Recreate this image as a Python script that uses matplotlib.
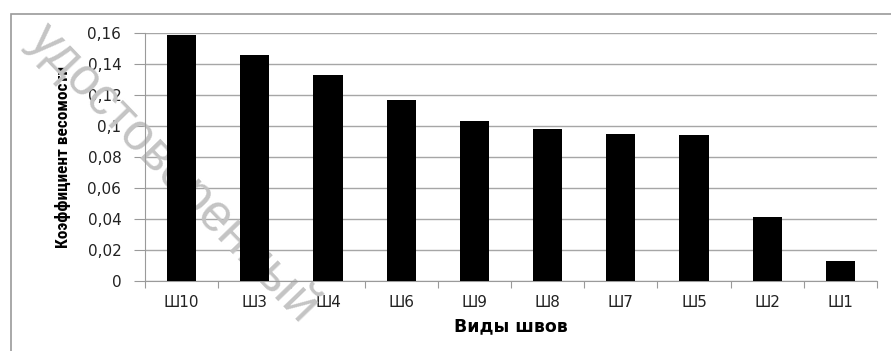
import matplotlib
matplotlib.use('Agg')
import matplotlib.pyplot as plt
from matplotlib.patches import Rectangle
from matplotlib.ticker import FuncFormatter, MultipleLocator

# виды швов и коэффициенты весомости
categories = ['Ш10', 'Ш3', 'Ш4', 'Ш6', 'Ш9', 'Ш8', 'Ш7', 'Ш5', 'Ш2', 'Ш1']
values = [0.159, 0.146, 0.133, 0.117, 0.103, 0.098, 0.095, 0.094, 0.041, 0.013]

fig = plt.figure(figsize=(8.91, 3.51), dpi=100)
ax = fig.add_axes([0.1627, 0.1994, 0.8216, 0.7066])

# рамка области диаграммы
fig.patches.append(Rectangle((11/891, -0.1), 1.1, 1 - 14/351 + 0.1,
                             transform=fig.transFigure, fill=False,
                             edgecolor='#9a9a9a', linewidth=1.2))

x = range(len(categories))
ax.bar(x, values, width=0.4, color='black', zorder=3)

ax.set_xlim(-0.5, len(categories) - 0.5)
ax.set_ylim(0, 0.16)
ax.yaxis.set_major_locator(MultipleLocator(0.02))
ax.yaxis.set_major_formatter(FuncFormatter(
    lambda v, p: '0' if abs(v) < 1e-9 else ('%.2f' % v).rstrip('0').replace('.', ',')))
ax.grid(axis='y', color='#a6a6a6', linewidth=1.0, zorder=0)

ax.set_xticks([i - 0.5 for i in range(len(categories) + 1)], minor=False)
ax.set_xticklabels([])
ax.set_xticks(list(x), minor=True)
ax.set_xticklabels(categories, minor=True)
ax.tick_params(axis='x', which='major', length=5, color='#9a9a9a', direction='out')
ax.tick_params(axis='x', which='minor', length=0, pad=10, labelsize=11, labelcolor='#222222')
ax.tick_params(axis='y', length=8, color='#9a9a9a', labelsize=11, labelcolor='#222222', pad=9)

for s in ['top', 'right']:
    ax.spines[s].set_visible(False)
for s in ['left', 'bottom']:
    ax.spines[s].set_color('#9a9a9a')

ax.set_xlabel('Виды швов', fontsize=12.5, fontweight='bold', labelpad=5)
ax.set_ylabel('Коэффициент весомости', fontsize=12.5, fontweight='bold',
              family=['Roboto Condensed', 'DejaVu Sans Condensed', 'Liberation Sans'],
              labelpad=12)

# водяной знак (под столбцами)
ax.text(0.195, 0.505, 'удостоверенный', transform=fig.transFigure,
        rotation=-46, rotation_mode='anchor', ha='center', va='center',
        fontsize=37, color='#c4c4c4', family='Liberation Sans',
        zorder=2, clip_on=False)

plt.savefig('out.png', dpi=100)
